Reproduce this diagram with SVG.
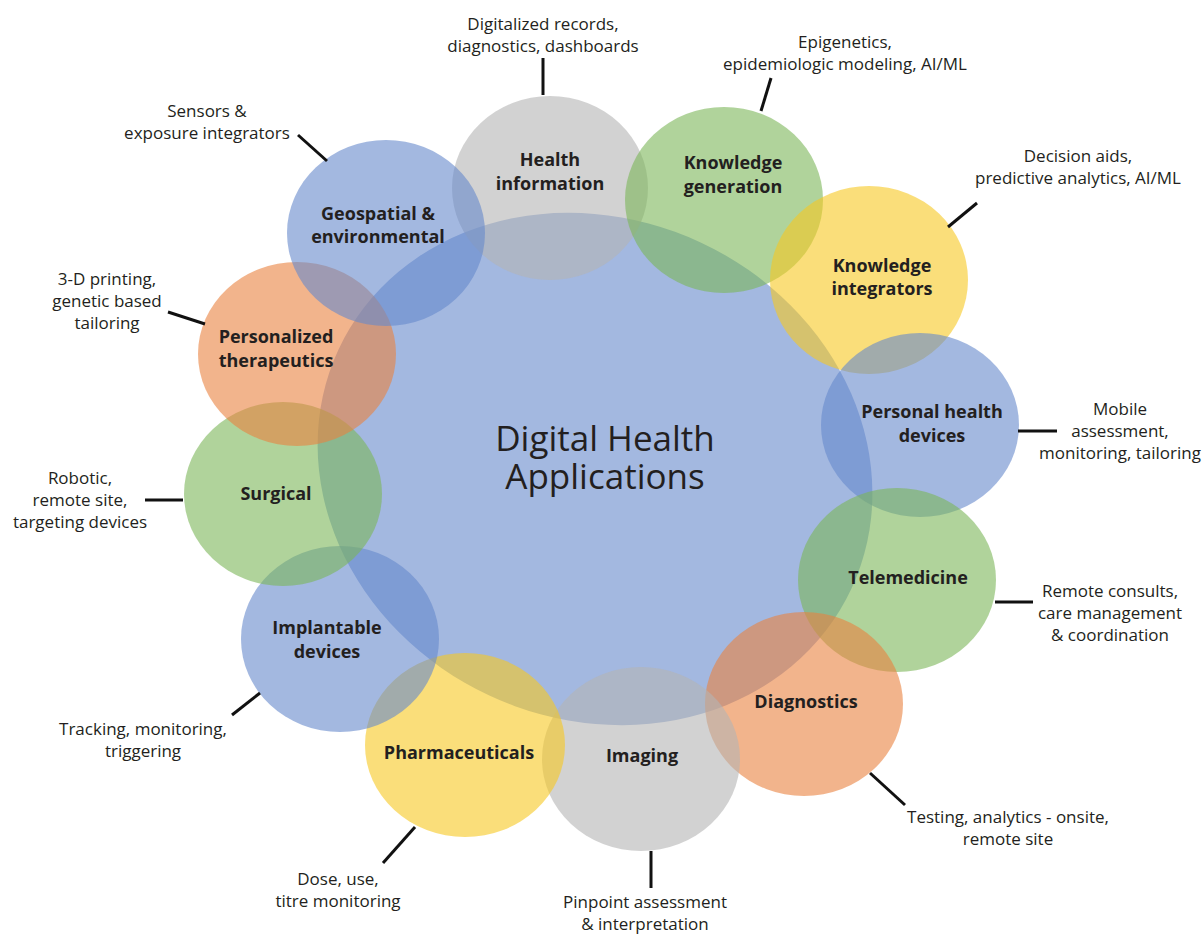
<svg xmlns="http://www.w3.org/2000/svg" width="1204" height="934" viewBox="0 0 1204 934">
<style>
.blue{fill:#6689cb;fill-opacity:0.6}
.gray{fill:#b4b4b4;fill-opacity:0.6}
.green{fill:#7bb658;fill-opacity:0.6}
.yellow{fill:#f7c821;fill-opacity:0.6}
.orange{fill:#e9823f;fill-opacity:0.6}
.lbl{font-family:"Open Sans","Noto Sans",sans-serif;font-weight:700;font-size:18px;fill:#231f20;text-anchor:middle}
.ann{font-family:"Open Sans","Noto Sans",sans-serif;font-size:17px;fill:#231f20;text-anchor:middle}
.title{font-family:"Open Sans","Noto Sans",sans-serif;font-size:35px;fill:#231f20;text-anchor:middle}
.con line{stroke:#111;stroke-width:3}
</style>
<rect width="1204" height="934" fill="#ffffff"/>
<g id="center">
<ellipse class="blue" cx="595" cy="469" rx="283" ry="250" transform="rotate(25 595 469)"/>
<text class="title" x="605" y="451">Digital Health</text>
<text class="title" x="605" y="489">Applications</text>
</g>
<g id="health-information">
<ellipse class="gray" cx="550" cy="188" rx="98" ry="92"/>
<text class="lbl" x="550" y="166">Health</text>
<text class="lbl" x="550" y="190">information</text>
</g>
<g id="knowledge-generation">
<ellipse class="green" cx="724" cy="200" rx="99" ry="93"/>
<text class="lbl" x="733" y="169">Knowledge</text>
<text class="lbl" x="733" y="193">generation</text>
</g>
<g id="knowledge-integrators">
<ellipse class="yellow" cx="869" cy="280" rx="99" ry="94"/>
<text class="lbl" x="882" y="272">Knowledge</text>
<text class="lbl" x="882" y="295">integrators</text>
</g>
<g id="personal-health-devices">
<ellipse class="blue" cx="920" cy="425" rx="99" ry="92"/>
<text class="lbl" x="932" y="418">Personal health</text>
<text class="lbl" x="932" y="442">devices</text>
</g>
<g id="telemedicine">
<ellipse class="green" cx="897" cy="580" rx="99" ry="92"/>
<text class="lbl" x="908" y="584">Telemedicine</text>
</g>
<g id="diagnostics">
<ellipse class="orange" cx="804" cy="704" rx="99" ry="92"/>
<text class="lbl" x="806" y="708">Diagnostics</text>
</g>
<g id="imaging">
<ellipse class="gray" cx="641" cy="759" rx="99" ry="92"/>
<text class="lbl" x="642" y="762">Imaging</text>
</g>
<g id="pharmaceuticals">
<ellipse class="yellow" cx="465" cy="745" rx="100" ry="92"/>
<text class="lbl" x="459" y="759">Pharmaceuticals</text>
</g>
<g id="implantable-devices">
<ellipse class="blue" cx="340" cy="639" rx="99" ry="93"/>
<text class="lbl" x="327" y="634">Implantable</text>
<text class="lbl" x="327" y="658">devices</text>
</g>
<g id="surgical">
<ellipse class="green" cx="283" cy="494" rx="99" ry="92"/>
<text class="lbl" x="276" y="500">Surgical</text>
</g>
<g id="personalized-therapeutics">
<ellipse class="orange" cx="297" cy="354" rx="99" ry="92"/>
<text class="lbl" x="276" y="343">Personalized</text>
<text class="lbl" x="276" y="367">therapeutics</text>
</g>
<g id="geospatial-environmental">
<ellipse class="blue" cx="386" cy="233" rx="99" ry="93"/>
<text class="lbl" x="378" y="220">Geospatial &amp;</text>
<text class="lbl" x="378" y="243">environmental</text>
</g>
<g id="connectors" class="con">
<line x1="543" y1="58" x2="543" y2="95"/>
<line x1="771" y1="78" x2="761" y2="111"/>
<line x1="977" y1="203" x2="948" y2="227"/>
<line x1="1018" y1="431" x2="1057" y2="431"/>
<line x1="995" y1="602" x2="1033" y2="602"/>
<line x1="870" y1="773" x2="905" y2="805"/>
<line x1="651" y1="851" x2="651" y2="888"/>
<line x1="415" y1="827" x2="383" y2="863"/>
<line x1="260" y1="693" x2="232" y2="715"/>
<line x1="145" y1="500" x2="183" y2="500"/>
<line x1="168" y1="312" x2="205" y2="324"/>
<line x1="298" y1="135" x2="327" y2="161"/>
</g>
<g id="annotations">
<text class="ann" x="543" y="30">Digitalized records,</text>
<text class="ann" x="543" y="52">diagnostics, dashboards</text>
<text class="ann" x="845" y="48">Epigenetics,</text>
<text class="ann" x="845" y="70">epidemiologic modeling, AI/ML</text>
<text class="ann" x="1078" y="162">Decision aids,</text>
<text class="ann" x="1078" y="184">predictive analytics, AI/ML</text>
<text class="ann" x="1120" y="415">Mobile</text>
<text class="ann" x="1120" y="437">assessment,</text>
<text class="ann" x="1120" y="459">monitoring, tailoring</text>
<text class="ann" x="1110" y="597">Remote consults,</text>
<text class="ann" x="1110" y="619">care management</text>
<text class="ann" x="1110" y="641">&amp; coordination</text>
<text class="ann" x="1008" y="823">Testing, analytics - onsite,</text>
<text class="ann" x="1008" y="845">remote site</text>
<text class="ann" x="645" y="908">Pinpoint assessment</text>
<text class="ann" x="645" y="930">&amp; interpretation</text>
<text class="ann" x="338" y="885">Dose, use,</text>
<text class="ann" x="338" y="907">titre monitoring</text>
<text class="ann" x="143" y="735">Tracking, monitoring,</text>
<text class="ann" x="143" y="757">triggering</text>
<text class="ann" x="80" y="484">Robotic,</text>
<text class="ann" x="80" y="506">remote site,</text>
<text class="ann" x="80" y="528">targeting devices</text>
<text class="ann" x="107" y="285">3-D printing,</text>
<text class="ann" x="107" y="307">genetic based</text>
<text class="ann" x="107" y="329">tailoring</text>
<text class="ann" x="207" y="117">Sensors &amp;</text>
<text class="ann" x="207" y="139">exposure integrators</text>
</g>
</svg>
